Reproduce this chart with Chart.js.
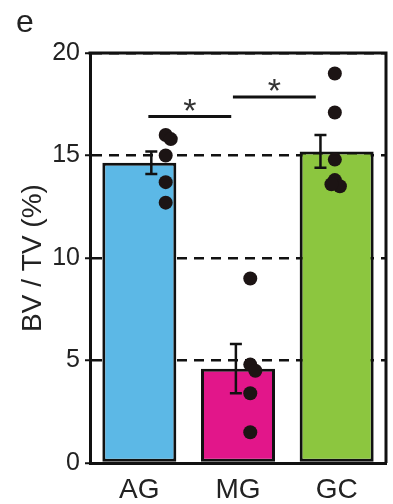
<!DOCTYPE html>
<html>
<head>
<meta charset="utf-8">
<script src="https://cdn.jsdelivr.net/npm/chart.js@4"></script>
<style>
   body { margin: 0; background: #fff; }
   #wrap { position: relative; width: 393px; height: 504px; }
</style>
</head>
<body>
<div id="wrap"><canvas id="bvChart"></canvas></div>
<script>
const categories = ["AG", "MG", "GC"];
const barColors = ["#5cb8e6", "#e2168a", "#8cc63f"];
const means = [14.65, 4.6, 15.2];
const sem = [0.55, 1.2, 0.8];
const dotsAG = [16.0, 15.8, 15.0, 13.7, 12.7];
const dotsMG = [9.0, 4.8, 4.5, 3.4, 1.5];
const dotsGC = [19.0, 17.1, 14.8, 13.8, 13.5, 13.6];
const yTicks = [0, 5, 10, 15, 20];
const comparisons = [
   { from: 0, to: 1, y: 16.9, label: "*" },
   { from: 1, to: 2, y: 17.85, label: "*" }
];

const FONT = "'Liberation Sans', Arial, Helvetica, sans-serif";
const DOT_OFFSET = 0.145;
const ERR_OFFSET = -0.025;

// spread dots that sit on top of each other a little sideways
function dotPoints(values, index) {
   let flip = 0;
   return values.map((v, i) => {
      let jitter = 0;
      if (i > 0 && Math.abs(v - values[i - 1]) < 0.4) {
         jitter = flip++ % 2 ? -0.04 : 0.06;
      }
      return { x: index + DOT_OFFSET + jitter, y: v };
   });
}

const allDots = [dotsAG, dotsMG, dotsGC].flatMap((vals, i) => dotPoints(vals, i));

const errorBarPlugin = {
   id: "errorBars",
   afterDatasetDraw(chart, args) {
      if (args.meta.type !== "bar") return;
      const { ctx, scales } = chart;
      const xs = scales.xDots;
      const ys = scales.y;
      ctx.save();
      ctx.strokeStyle = "#111";
      ctx.lineWidth = 2.5;
      means.forEach((m, i) => {
         const x = xs.getPixelForValue(i + ERR_OFFSET);
         const top = ys.getPixelForValue(m + sem[i]);
         const bottom = ys.getPixelForValue(m - sem[i]);
         ctx.beginPath();
         ctx.moveTo(x, top);
         ctx.lineTo(x, bottom);
         ctx.moveTo(x - 6, top);
         ctx.lineTo(x + 6, top);
         ctx.moveTo(x - 6, bottom);
         ctx.lineTo(x + 6, bottom);
         ctx.stroke();
      });
      ctx.restore();
   }
};

const framePlugin = {
   id: "frame",
   afterDraw(chart) {
      const { ctx, chartArea, scales } = chart;
      ctx.save();
      ctx.strokeStyle = "#111";
      ctx.lineWidth = 3;
      ctx.beginPath();
      ctx.moveTo(chartArea.left - 1.5, chartArea.top);
      ctx.lineTo(chartArea.right, chartArea.top);
      ctx.lineTo(chartArea.right, chartArea.bottom);
      ctx.stroke();

      // significance brackets
      const xs = scales.xDots;
      const ys = scales.y;
      comparisons.forEach((c) => {
         const x1 = xs.getPixelForValue(c.from - 0.06);
         const x2 = xs.getPixelForValue(c.to - 0.08);
         const y = ys.getPixelForValue(c.y);
         ctx.beginPath();
         ctx.lineWidth = 3;
         ctx.moveTo(x1, y);
         ctx.lineTo(x2, y);
         ctx.stroke();
         ctx.fillStyle = "#333";
         ctx.font = "34px " + FONT;
         ctx.textAlign = "center";
         ctx.textBaseline = "middle";
         ctx.fillText(c.label, (x1 + x2) / 2, y - 4);
      });

      // panel letter
      ctx.fillStyle = "#222";
      ctx.font = "32px " + FONT;
      ctx.textAlign = "left";
      ctx.textBaseline = "alphabetic";
      ctx.fillText("e", 16, 32);
      ctx.restore();
   }
};

new Chart(document.getElementById("bvChart"), {
   type: "bar",
   data: {
      labels: categories,
      datasets: [
         {
            type: "bar",
            data: means,
            backgroundColor: barColors,
            borderColor: "#111",
            borderWidth: 3,
            borderSkipped: false,
            grouped: false,
            categoryPercentage: 1,
            barPercentage: 0.75,
            order: 2
         },
         {
            type: "scatter",
            data: allDots,
            xAxisID: "xDots",
            backgroundColor: "#1c1414",
            borderWidth: 0,
            pointRadius: 7,
            order: 1
         }
      ]
   },
   options: {
      responsive: true,
      maintainAspectRatio: false,
      animation: false,
      layout: { padding: { top: 53, right: 2, left: 0, bottom: 0 } },
      plugins: {
         legend: { display: false },
         tooltip: { enabled: false }
      },
      scales: {
         x: {
            type: "category",
            offset: true,
            grid: { display: false, drawTicks: false },
            border: { display: true, color: "#111", width: 3 },
            ticks: {
               color: "#222",
               padding: 10,
               font: { family: FONT, size: 28 }
            },
            afterFit(scale) { scale.height = 41; }
         },
         xDots: {
            type: "linear",
            display: false,
            min: -0.5,
            max: 2.5
         },
         y: {
            min: 0,
            max: 20,
            afterBuildTicks(scale) {
               scale.ticks = yTicks.map((v) => ({ value: v }));
            },
            grid: {
               color: "#111",
               lineWidth: 2.5,
               tickLength: 5,
               tickColor: "#111",
               tickWidth: 2
            },
            border: { display: true, color: "#111", width: 3, dash: [10, 7] },
            ticks: {
               color: "#222",
               padding: 5,
               font: { family: FONT, size: 25 }
            },
            title: {
               display: true,
               text: "BV / TV (%)",
               color: "#222",
               padding: { top: 16, bottom: 0 },
               font: { family: FONT, size: 28 }
            },
            afterFit(scale) { scale.width = 90; }
         }
      }
   },
   plugins: [errorBarPlugin, framePlugin]
});
</script>
</body>
</html>
